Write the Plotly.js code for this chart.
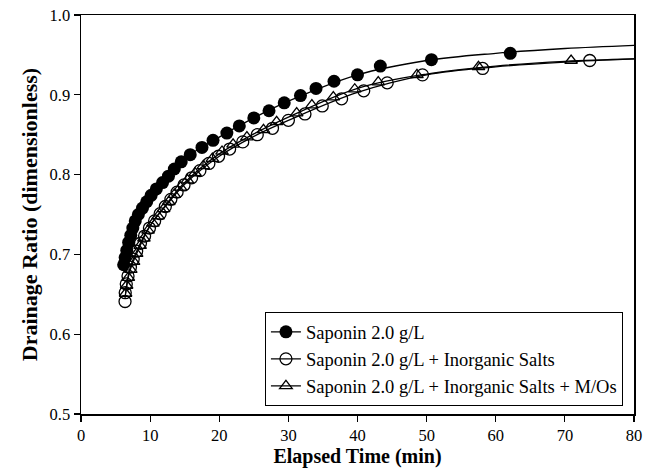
<!DOCTYPE html>
<html>
<head>
<meta charset="utf-8">
<script src="https://cdn.plot.ly/plotly-3.0.1.min.js"></script>
<style>html,body{margin:0;padding:0;background:#fff;}#chart{width:645px;height:473px;}</style>
</head>
<body>
<div id="chart"></div>
<script>
// Series names
const seriesNames = [
  "Saponin 2.0 g/L",
  "Saponin 2.0 g/L + Inorganic Salts",
  "Saponin 2.0 g/L + Inorganic Salts + M/Os"
];

// Saponin 2.0 g/L (filled circles)
const timeSap = [6.17, 6.39, 6.62, 6.89, 7.2, 7.5, 7.85, 8.3, 8.9, 9.5, 10.15, 10.9, 11.8, 12.65, 13.5, 14.5,
  15.8, 17.5, 19.1, 21.1, 22.9, 25.0, 27.2, 29.4, 31.75, 34.0, 36.6, 40.0, 43.3, 50.7, 62.1];
const drainSap = [0.687, 0.696, 0.705, 0.715, 0.724, 0.733, 0.742, 0.750, 0.758, 0.766, 0.774, 0.782, 0.790, 0.798, 0.807, 0.816,
  0.825, 0.834, 0.843, 0.852, 0.861, 0.871, 0.880, 0.890, 0.899, 0.908, 0.917, 0.925, 0.936, 0.944, 0.952];

// Saponin + Inorganic Salts (open circles)
const timeSalt = [6.37, 6.4, 6.55, 6.8, 7.15, 7.55, 8.05, 8.6, 9.2, 9.9, 10.65, 11.45, 12.2, 13.0, 13.9, 14.9,
  16.0, 17.2, 18.5, 19.9, 21.5, 23.4, 25.5, 27.7, 30.0, 32.4, 34.9, 37.7, 40.9, 44.3, 49.4, 58.1, 73.6];
const drainSalt = [0.641, 0.652, 0.663, 0.673, 0.684, 0.694, 0.704, 0.714, 0.723, 0.733, 0.742, 0.751, 0.760, 0.769, 0.778, 0.787,
  0.796, 0.805, 0.814, 0.823, 0.832, 0.841, 0.850, 0.858, 0.868, 0.876, 0.886, 0.895, 0.905, 0.915, 0.925, 0.933, 0.943];

// Saponin + Inorganic Salts + M/Os (open triangles)
const timeMO = [6.45, 6.6, 6.85, 7.2, 7.6, 8.05, 8.55, 9.1, 9.7, 10.4, 11.15, 11.95, 12.7, 13.5, 14.4, 15.4,
  16.5, 17.7, 19.0, 20.4, 22.0, 24.0, 26.4, 28.3, 31.2, 33.4, 36.5, 39.6, 43.0, 48.6, 57.5, 70.9];
const drainMO = [0.651, 0.661, 0.671, 0.681, 0.691, 0.701, 0.711, 0.720, 0.730, 0.739, 0.748, 0.757, 0.766, 0.775, 0.784, 0.793,
  0.802, 0.811, 0.820, 0.829, 0.838, 0.847, 0.856, 0.866, 0.877, 0.887, 0.897, 0.907, 0.916, 0.925, 0.935, 0.943];

// Fitted curves
const fitTimeSap = [6.17, 7, 8, 10, 12, 15, 20, 25, 30, 40, 50, 60, 70, 80];
const fitSap = [0.687, 0.719, 0.744, 0.772, 0.792, 0.820, 0.847, 0.871, 0.892, 0.925, 0.943, 0.952, 0.958, 0.962];
const fitTimeSalt = [6.37, 7, 8, 10, 12, 15, 20, 25, 30, 40, 50, 60, 70, 80];
const fitSalt = [0.645, 0.680, 0.703, 0.736, 0.758, 0.788, 0.823, 0.848, 0.868, 0.903, 0.925, 0.935, 0.941, 0.945];
const fitTimeMO = [6.45, 7, 8, 10, 12, 15, 20, 25, 30, 40, 50, 60, 70, 80];
const fitMO = [0.651, 0.677, 0.700, 0.736, 0.759, 0.790, 0.826, 0.851, 0.872, 0.908, 0.926, 0.936, 0.942, 0.945];

// Axis ticks
const xTicks = [0, 10, 20, 30, 40, 50, 60, 70, 80];
const yTicks = [0.5, 0.6, 0.7, 0.8, 0.9, 1.0];
const yTickText = ["0.5", "0.6", "0.7", "0.8", "0.9", "1.0"];

const serif = "Liberation Serif, Times New Roman, serif";

function fitTrace(x, y) {
  return {x: x, y: y, mode: "lines", type: "scatter", line: {color: "#000", width: 1.3, shape: "spline"},
          showlegend: false, hoverinfo: "skip"};
}

const traces = [
  fitTrace(fitTimeSap, fitSap),
  fitTrace(fitTimeSalt, fitSalt),
  fitTrace(fitTimeMO, fitMO),
  {x: timeSalt, y: drainSalt, name: seriesNames[1], mode: "markers", type: "scatter", showlegend: false,
   marker: {symbol: "circle-open", size: 12, color: "#000", line: {width: 1.3, color: "#000"}}},
  {x: timeMO, y: drainMO, name: seriesNames[2], mode: "markers", type: "scatter", showlegend: false,
   marker: {symbol: "triangle-up-open", size: 11, color: "#000", line: {width: 1.3, color: "#000"}}},
  {x: timeSap, y: drainSap, name: seriesNames[0], mode: "markers", type: "scatter", showlegend: false,
   marker: {symbol: "circle", size: 13, color: "#000", line: {width: 0}}}
];

// Legend entries with line+marker appearance
const legendTraces = [
  {x: [null], y: [null], name: seriesNames[0], mode: "lines+markers", type: "scatter",
   line: {color: "#000", width: 1.3}, marker: {symbol: "circle", size: 13, color: "#000"}},
  {x: [null], y: [null], name: seriesNames[1], mode: "lines+markers", type: "scatter",
   line: {color: "#000", width: 1.3}, marker: {symbol: "circle-open", size: 12, color: "#000", line: {width: 1.3}}},
  {x: [null], y: [null], name: seriesNames[2], mode: "lines+markers", type: "scatter",
   line: {color: "#000", width: 1.3}, marker: {symbol: "triangle-up-open", size: 11, color: "#000", line: {width: 1.3}}}
];

const layout = {
  width: 645, height: 473,
  margin: {l: 81, r: 11, t: 15, b: 59},
  paper_bgcolor: "#fff", plot_bgcolor: "#fff",
  font: {family: serif, size: 16, color: "#000"},
  xaxis: {
    range: [0, 80], tickvals: xTicks, ticks: "outside", ticklen: 6, tickwidth: 1.2, tickcolor: "#000",
    showline: true, linecolor: "#000", linewidth: 1.5, mirror: true, showgrid: false, zeroline: false,
    tickfont: {family: serif, size: 16.5},
    title: {text: "<b>Elapsed Time (min)</b>", font: {family: serif, size: 20}, standoff: 3}
  },
  yaxis: {
    range: [0.5, 1.0], tickvals: yTicks, ticktext: yTickText, ticks: "outside", ticklen: 6, tickwidth: 1.2, tickcolor: "#000",
    showline: true, linecolor: "#000", linewidth: 1.5, mirror: true, showgrid: false, zeroline: false,
    tickfont: {family: serif, size: 16.5},
    title: {text: "<b>Drainage Ratio (dimensionless)</b>", font: {family: serif, size: 22}, standoff: 6}
  },
  legend: {
    x: 0.980, y: 0.255, xanchor: "right", yanchor: "top",
    bordercolor: "#000", borderwidth: 1, bgcolor: "#fff",
    font: {family: serif, size: 18.5}, tracegroupgap: 0, itemwidth: 30
  },
  showlegend: true
};

Plotly.newPlot("chart", traces.concat(legendTraces), layout, {displayModeBar: false, staticPlot: true});
</script>
</body>
</html>
